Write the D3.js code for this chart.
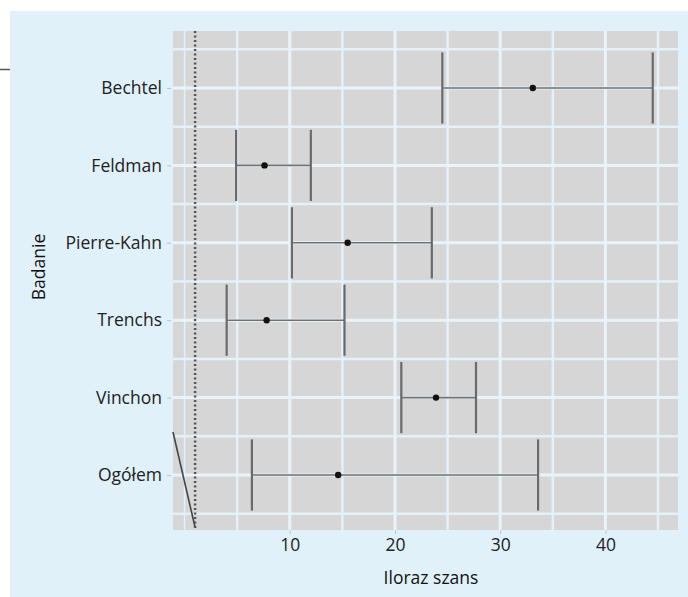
<!DOCTYPE html>
<html><head><meta charset="utf-8">
<script src="https://cdn.jsdelivr.net/npm/d3@7"></script>
<style>body{margin:0;background:#fff;font-family:"Open Sans","Noto Sans",sans-serif;}</style>
</head><body>
<svg id="c" width="688" height="597"></svg>
<script>
const studies = ["Bechtel","Feldman","Pierre-Kahn","Trenchs","Vinchon","Ogółem"];
const oddsRatio = [33.1, 7.6, 15.5, 7.8, 23.9, 14.6];
const lowerCI   = [24.5, 4.9, 10.2, 4.0, 20.6, 6.4];
const upperCI   = [44.5, 12.0, 23.5, 15.2, 27.7, 33.6];
const xTicks = [10, 20, 30, 40];
const xMinor = [0, 5, 15, 25, 35, 45];
const refValue = 1;

const FONT = "'Open Sans','Noto Sans',sans-serif";
const svg = d3.select("#c");
svg.append("rect").attr("x",10).attr("y",11).attr("width",678).attr("height",586).attr("fill","#e0f1fa");
svg.append("line").attr("x1",0).attr("x2",10).attr("y1",69.5).attr("y2",69.5).attr("stroke","#555").attr("stroke-width",1.5);

const L=173,R=678,T=31,B=530;
const x = d3.scaleLinear().domain([-1.1,46.9]).range([L,R]);
const y = d3.scalePoint().domain(studies).range([88,475]);
const step = y.step();

svg.append("rect").attr("x",L).attr("y",T).attr("width",R-L).attr("height",B-T).attr("fill","#d6d6d6");
const g = svg.append("g");
g.selectAll(".vm").data(xMinor).join("line").attr("x1",d=>x(d)).attr("x2",d=>x(d)).attr("y1",T).attr("y2",B)
 .attr("stroke","#e4f1f8").attr("stroke-width",d=>d===0?1.5:2.5);
const hMinor = [y(studies[0])-step/2, ...studies.map(s=>y(s)+step/2)];
g.selectAll(".hm").data(hMinor).join("line").attr("x1",L).attr("x2",R).attr("y1",d=>d).attr("y2",d=>d)
 .attr("stroke","#e4f1f8").attr("stroke-width",2.5);
g.selectAll(".vM").data(xTicks).join("line").attr("x1",d=>x(d)).attr("x2",d=>x(d)).attr("y1",T).attr("y2",B)
 .attr("stroke","#e8f4fa").attr("stroke-width",3);
g.selectAll(".hM").data(studies).join("line").attr("x1",L).attr("x2",R).attr("y1",d=>y(d)).attr("y2",d=>y(d))
 .attr("stroke","#e8f4fa").attr("stroke-width",3);

svg.append("line").attr("x1",x(refValue)).attr("x2",x(refValue)).attr("y1",T).attr("y2",B)
 .attr("stroke","#555").attr("stroke-width",2.5).attr("stroke-dasharray","2,2.5");

const capH = step*0.46;
const eb = svg.append("g");
studies.forEach((s,i)=>{
  const yy=y(s);
  eb.append("line").attr("x1",x(lowerCI[i])).attr("x2",x(upperCI[i])).attr("y1",yy).attr("y2",yy)
    .attr("stroke","#707070").attr("stroke-width",1.6);
  [lowerCI[i],upperCI[i]].forEach(v=>{
    eb.append("line").attr("x1",x(v)).attr("x2",x(v)).attr("y1",yy-capH).attr("y2",yy+capH)
      .attr("stroke","#6a6a6a").attr("stroke-width",2.2);
  });
  eb.append("circle").attr("cx",x(oddsRatio[i])).attr("cy",yy).attr("r",3.2).attr("fill","#111");
});

svg.append("line").attr("x1",173).attr("y1",432).attr("x2",195).attr("y2",527).attr("stroke","#444").attr("stroke-width",1.6);

const yAxis = d3.axisLeft(y).tickSize(4).tickPadding(5);
const ya = svg.append("g").attr("transform",`translate(${L-2},0)`).call(yAxis).attr("font-size",null).attr("font-family",null);
ya.select(".domain").remove();
ya.selectAll(".tick line").attr("stroke","#b8c8d0");
ya.selectAll(".tick text").style("font-size","17.5px").attr("fill","#222").style("font-family",FONT);

const xAxis = d3.axisBottom(x).tickValues(xTicks).tickSize(4).tickPadding(5);
const xa = svg.append("g").attr("transform",`translate(0,${B})`).call(xAxis).attr("font-size",null).attr("font-family",null);
xa.select(".domain").remove();
xa.selectAll(".tick line").attr("stroke","#b8c8d0");
xa.selectAll(".tick text").style("font-size","17.5px").attr("fill","#222").style("font-family",FONT);

svg.append("text").attr("x",431).attr("y",584).attr("text-anchor","middle").style("font-size","17.5px")
 .attr("fill","#111").style("font-family",FONT).text("Iloraz szans");
svg.append("text").attr("transform",`translate(45,267) rotate(-90)`).attr("text-anchor","middle")
 .style("font-size","17.5px").attr("fill","#111").style("font-family",FONT).text("Badanie");
</script>
</body></html>
